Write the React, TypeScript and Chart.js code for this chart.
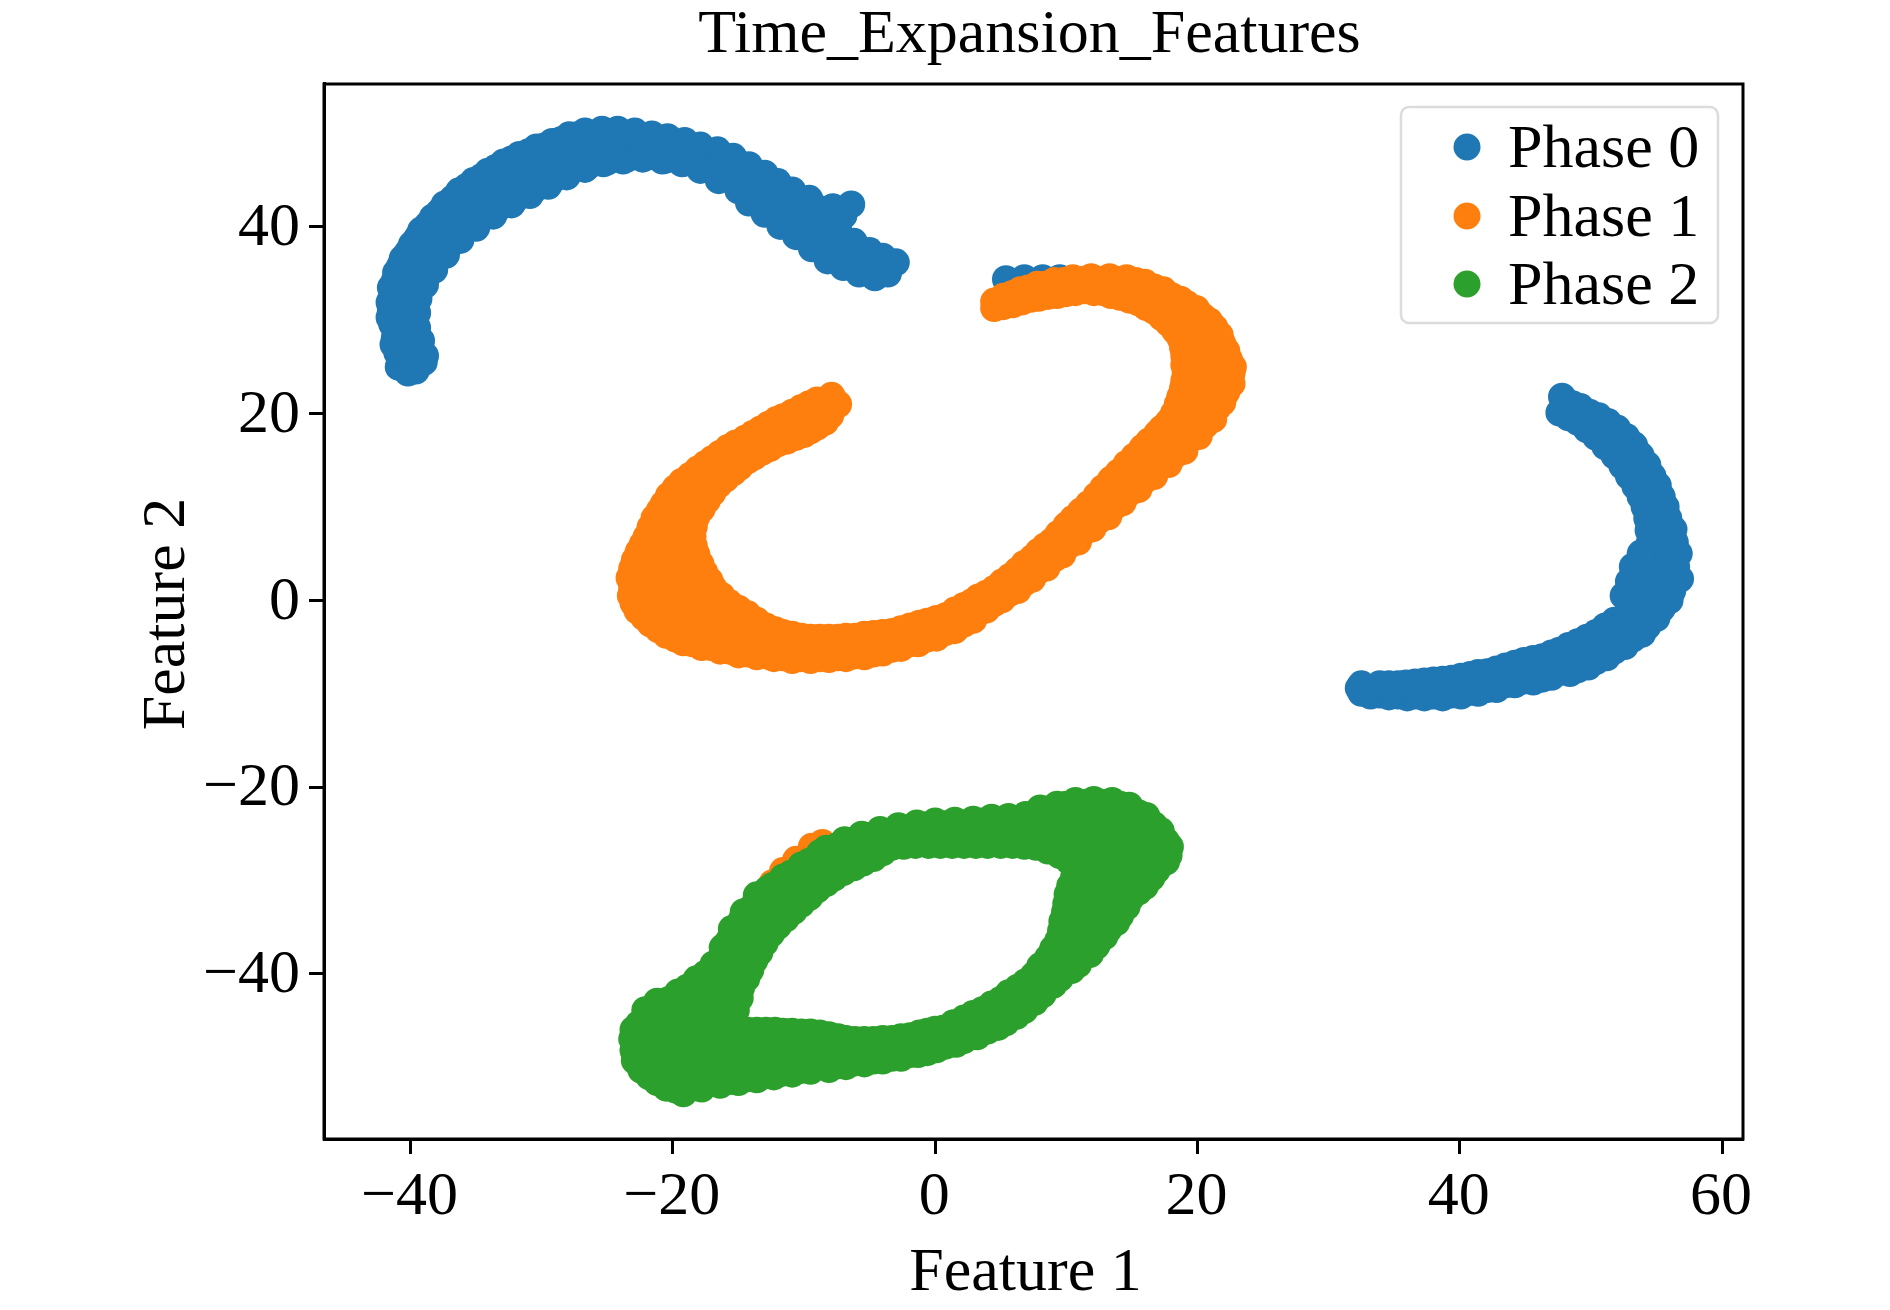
import React, { useEffect, useRef } from "react";
import { Chart, registerables } from "chart.js";

Chart.register(...registerables);

type P = [number, number];

const seriesNames = ["Phase 0", "Phase 1", "Phase 2"];
const seriesColors = ["#1f77b4", "#ff7f0e", "#2ca02c"];
const xTicks = [-40, -20, 0, 20, 40, 60];
const yTicks = [-40, -20, 0, 20, 40];

const phase0ArcOuter: P[] = [[-40.9,25],[-41,26.5],[-41.2,28.1],[-41.4,29.6],[-41.5,31],[-41.4,32.6],[-41.2,34.2],[-40.8,35.8],[-40.2,37.3],[-39.5,38.8],[-38.7,40.2],[-37.8,41.6],[-36.8,43],[-35.7,44.3],[-34.6,45.3],[-33.5,46.3],[-32.3,47.2],[-31,48],[-29.8,48.6],[-28.5,49.3],[-27.3,49.8],[-26,49.9],[-24.8,49.9],[-23.5,49.8],[-22.2,49.6],[-21,49.2],[-19.8,48.9],[-18.5,48.4],[-17.2,47.9],[-16,47.4],[-14.8,46.6],[-13.6,45.7],[-12.5,44.8],[-11.4,43.9],[-10.3,42.9],[-9,42],[-7.8,42.1],[-6.4,42.4]];
const phase0ArcOuterStagger: P[] = [[-41.3,27.4],[-41.6,30.3],[-41.6,31.9],[-41.5,33.5],[-41.1,35.1],[-40.6,36.6],[-39.9,38.1],[-39.2,39.6],[-38.3,41],[-37.4,42.4],[-36.3,43.8],[-35.2,44.9],[-34.1,45.9],[-32.9,46.9],[-31.7,47.7],[-30.4,48.5],[-29.2,49.1],[-27.9,49.8],[-26.7,50.2],[-25.4,50.4],[-24.2,50.4],[-22.9,50.2],[-21.6,49.9],[-20.4,49.6],[-19.1,49.2],[-17.9,48.7],[-16.6,48.2],[-15.4,47.5],[-14.2,46.6],[-13,45.7],[-12,44.8],[-10.9,43.9],[-9.6,43]];
const phase0ArcMiddle: P[] = [[-40,25.3],[-40.2,27.2],[-40.5,29],[-40.7,30.5],[-40.6,32.2],[-40.4,33.8],[-39.8,35.6],[-39.1,37],[-38.2,38.7],[-37.2,40.3],[-36,41.7],[-34.8,43],[-33.4,44.2],[-32,45.3],[-30.6,46.3],[-29.2,47.1],[-27.8,47.9],[-26.4,48.3],[-25,48.5],[-23.5,48.6],[-22,48.6],[-20.5,48.2],[-19,47.8],[-17.6,47.2],[-16,46.2],[-14.6,45],[-13.4,44],[-12.2,42.9],[-11,41.8],[-9.8,40.6],[-8.6,39.4],[-7.4,38.2],[-6.2,37.2],[-5,36.2],[-8,40.8],[-9.2,42],[-7,41.2]];
const phase0ArcInner: P[] = [[-39,25.5],[-39.4,27],[-39.7,28.5],[-39.9,30],[-39.9,31.5],[-39.6,33],[-39,34.6],[-38.2,36.2],[-37.2,37.8],[-36,39.4],[-34.8,40.6],[-33.4,41.9],[-32,43],[-30.6,44],[-29.2,45],[-27.8,46],[-26.4,46.6],[-25,47],[-23.5,47.3],[-22,47.5],[-20.5,47.2],[-19,46.9],[-17.6,46.3],[-16.2,45.2],[-15,43.9],[-13.8,43],[-12.6,41.9],[-11.4,40.7],[-10.2,39.6],[-9,38.3],[-7.8,37],[-6.6,36.2],[-5.4,35.5],[-4.2,35],[-3.4,35.8],[-3,36.2],[-4,36.8],[-5,37.4],[-6.2,38.4],[-7.4,39.8],[-8.6,41]];
const phase0ArcInnerStagger: P[] = [[-38.9,26.2],[-39.2,27.8],[-39.5,29.2],[-39.5,30.8],[-39.4,32.3],[-38.9,33.8],[-38.2,35.4],[-37.3,37],[-36.2,38.6],[-35,39.9],[-33.7,41.2],[-32.3,42.4],[-30.9,43.4],[-29.5,44.4],[-28.1,45.4],[-26.7,46.2],[-25.3,46.8],[-23.8,47.1],[-22.3,47.3],[-20.8,47.1],[-19.3,46.8],[-17.9,46.1],[-16.5,45],[-14.2,42.6],[-13,41.4],[-11.8,40.1],[-10.6,39],[-9.4,37.7],[-8.2,36.4],[-7,35.7],[-5.8,35],[-4.6,34.6],[-3.6,35],[-40.2,24.4],[-39.6,24.6]];
const phase0RightOuter: P[] = [[47.8,21.8],[48.6,21],[49.9,20.1],[51.3,19.1],[52.7,17.5],[53.8,15.5],[54.7,13.3],[55.4,11.1],[55.9,8.8],[56.4,6.2],[56.5,3.6],[56.2,1],[55.4,-0.9],[54.3,-2.8],[53.2,-4.1],[51.8,-5.4],[50.4,-6.5],[49,-7.4],[47.6,-7.7],[46.3,-8.4],[44.9,-8.6],[43.5,-9],[42.1,-9.5],[40.8,-9.8],[39.4,-10.1],[38,-10.2],[36.6,-10.2],[35.3,-10.2],[33.9,-10.1],[32.5,-9.9]];
const phase0RightOuterStagger: P[] = [[49.2,20.7],[50.6,19.7],[52,18.4],[53.3,16.6],[54.3,14.5],[55.1,12.3],[55.7,10],[56.3,7.6],[56.7,5],[56.8,2.3],[56,0],[55,-1.9],[53.9,-3.6],[52.6,-4.9],[51.2,-6.1],[49.8,-7.1],[48.4,-7.8],[47,-8.2],[45.6,-8.7],[44.2,-9],[42.8,-9.5],[41.4,-9.9],[40.1,-10.2],[38.7,-10.4],[37.3,-10.4],[36,-10.4],[34.6,-10.3],[33.2,-10.2],[32.3,-9.4]];
const phase0RightMiddle: P[] = [[48.2,20.6],[49.5,19.6],[50.9,18.2],[52.2,16.5],[53.3,14.4],[54.2,12.2],[54.8,10],[55.2,7.5],[55.4,5],[55.3,2.6],[54.9,0.4],[54.2,-1.5],[53,-3],[51.6,-4.2],[50.2,-5.2],[48.8,-6],[47.4,-6.6],[46,-7.2],[44.6,-7.6],[43.2,-8.1],[41.8,-8.6],[40.4,-9],[39,-9.3],[37.6,-9.5],[36.2,-9.6],[34.8,-9.6],[33.4,-9.5]];
const phase0RightInner: P[] = [[47.6,20.1],[49,19.1],[50.4,17.5],[51.8,15.5],[52.9,13.3],[53.8,11.1],[54.3,8.8],[54.5,6.2],[54.1,3.6],[53.4,1.7],[52.9,-0.3],[51.8,-2.2],[50.4,-3.5],[49,-4.5],[47.6,-5.4],[46.3,-6.1],[44.9,-6.5],[43.5,-7.1],[42.1,-7.7],[40.8,-8],[39.4,-8.4],[38,-8.6],[36.6,-8.8],[35.3,-9],[33.9,-9],[32.5,-9]];
const phase0RightInnerStagger: P[] = [[53.2,3.6],[52.9,2],[52.5,0.5],[53.8,5],[51.1,-2.8],[49.7,-4],[48.3,-4.9],[47,-5.7],[45.6,-6.3],[44.2,-6.8],[42.8,-7.4],[41.4,-7.8],[40.1,-8.2],[38.7,-8.5],[37.3,-8.7],[35.9,-8.9],[34.6,-9],[48.3,19.6],[49.7,18.3],[51.1,16.5],[52.4,14.4],[53.4,12.2],[54.1,10],[54.4,7.5]];
const phase0Patch: P[] = [[5.4,34.4],[6.8,34.5],[8.2,34.5],[9.5,34.5],[10.5,34.3]];

const phase1Outer: P[] = [[-7.9,21.9],[-9,21.4],[-10.2,20.6],[-11.6,19.6],[-12.7,18.8],[-13.9,17.8],[-15.2,16.8],[-16.4,15.7],[-17.5,14.6],[-18.7,13.3],[-19.8,12],[-20.7,10.3],[-21.4,8.8],[-22,6.8],[-22.6,5.2],[-23.1,3.4],[-23.1,1.4],[-23,-0.3],[-22.2,-1.8],[-21.1,-3.1],[-19.8,-4.1],[-18.5,-4.6],[-17.1,-5],[-15.7,-5.4],[-14.3,-5.7],[-12.9,-5.9],[-11.6,-6.1],[-10.2,-6.2],[-8.8,-6.2],[-7.4,-6.1],[-6.1,-5.9],[-4.7,-5.7],[-3.3,-5.2],[-1.9,-4.6],[-0.6,-4.1],[0.8,-3.4],[2.2,-2.5],[3.3,-1.3],[4.5,-0.3],[5.7,0.8],[6.8,1.9],[7.9,3.2],[9.1,4.5],[10.2,5.9],[11.4,7.4],[12.5,8.6],[13.7,10.1],[14.8,11.5],[16,12.9],[17.1,14.3],[18.3,15.6],[19.4,17.2],[20.6,18.8],[21.5,20.6],[22.2,22.3],[22.6,24.3],[22.4,25.8],[21.9,27.5],[21.3,29.2],[20.4,30.4],[19.2,31.7],[18,32.6],[16.7,33.5],[15.3,34.2],[14,34.3],[12.6,34.3],[11.2,34.3],[9.8,34.2],[8.4,33.8],[7.1,33.4],[5.9,32.8],[4.5,32]];
const phase1OuterStagger: P[] = [[-9.6,21],[-10.9,20.1],[-12.1,19.3],[-13.3,18.3],[-14.5,17.3],[-15.8,16.3],[-17,15.1],[-18.1,14],[-19.3,12.7],[-20.3,11.2],[-21,9.6],[-21.7,7.8],[-22.3,6],[-22.9,4.3],[-23.3,2.4],[-23.2,0.5],[-22.7,-1.1],[-21.7,-2.5],[-20.5,-3.7],[-19.2,-4.5],[-17.8,-5],[-16.4,-5.4],[-15,-5.8],[-13.6,-6],[-12.3,-6.2],[-10.9,-6.4],[-9.5,-6.4],[-8.1,-6.3],[-6.8,-6.2],[-5.4,-6],[-4,-5.6],[-2.6,-5.1],[-1.3,-4.6],[0.1,-4],[1.5,-3.2],[2.9,-2.1],[3.9,-1],[5.1,0.1],[6.3,1.1],[7.4,2.3],[8.5,3.5],[9.7,4.9],[10.9,6.3],[12,7.7],[13.2,9],[14.3,10.5],[15.5,11.9],[16.7,13.3],[17.8,14.6],[19,16],[20.1,17.6],[21.2,19.4],[21.9,21.2],[22.6,23.2],[22.7,25],[22.2,26.7],[21.7,28.4],[20.9,29.9],[19.9,31.2],[18.7,32.2],[17.4,33.2],[16,34],[14.6,34.5],[13.3,34.6],[11.9,34.6],[10.5,34.5],[9.1,34.2],[7.8,33.8],[6.5,33.2],[5.2,32.5]];
const phase1Middle: P[] = [[-8,20.5],[-9.2,19.9],[-10.6,19],[-12,18.2],[-13.2,17.3],[-14.5,16.3],[-15.8,15.2],[-17,14],[-18,12.9],[-12.2,-4.7],[-10.9,-5],[-9.5,-5.1],[-8.1,-5.1],[-6.8,-5],[-5.4,-4.8],[-4,-4.5],[-2.6,-4],[-1.2,-3.5],[0.1,-2.9],[1.5,-2],[2.8,-1],[3.9,0],[5.1,1],[6.2,2.2],[7.4,3.6],[8.5,4.9],[9.6,6.2],[10.7,7.7],[11.8,9],[12.9,10.6],[14.1,12.1],[15.2,13.7],[16.5,15],[17.6,16.5],[18.8,18],[19,19.8]];
const phase1Inner: P[] = [[-7.4,21],[-8.4,19.1],[-9.5,18.2],[-10.6,17.5],[-12,16.8],[-13.2,15.9],[-14.3,15],[-15.4,13.7],[-16.5,12.4],[-17.4,10.7],[-18.2,9],[-18.5,6.8],[-18.2,4.9],[-17.6,3],[-16.9,1.3],[-15.7,-0.3],[-14.3,-1.5],[-12.9,-2.8],[-11.6,-3.5],[-10.2,-3.9],[-8.8,-4],[-7.4,-4],[-6.1,-3.9],[-4.7,-3.6],[-3.3,-3.4],[-1.9,-2.8],[-0.6,-2.3],[0.8,-1.7],[2.2,-0.6],[3.3,0.3],[4.5,1.2],[5.7,2.5],[6.8,3.9],[7.9,5.2],[8.9,6.3],[10,8],[11.1,9.5],[12.3,11.2],[13.4,12.9],[14.6,14.6],[15.8,16.3],[16.9,17.8],[17.8,19.1],[18.5,21],[18.9,22.7],[19.1,24.3],[19,26.2],[18.7,28.1],[17.8,29.7],[16.7,31],[15.5,31.9],[14.1,32.5],[12.8,33],[11.4,33.2],[10,32.9],[8.6,32.6],[7.3,32.3],[5.9,31.7],[4.5,31.3]];
const phase1InnerStagger: P[] = [[-8,19.8],[-9,18.6],[-10,17.8],[-11.3,17.1],[-12.6,16.3],[-13.8,15.4],[-14.9,14.3],[-16,13],[-17,11.5],[-17.8,9.8],[-18.4,7.9],[-18.4,5.8],[-17.9,3.9],[-17.2,2.1],[-16.3,0.5],[-15,-0.9],[-13.6,-2.2],[-12.2,-3.2],[-10.9,-3.7],[-9.5,-4],[-8.1,-4],[-6.8,-3.9],[-5.4,-3.7],[-4,-3.5],[-2.6,-3.1],[-1.2,-2.5],[0.1,-2],[1.5,-1.1],[2.8,-0.2],[3.9,0.7],[5.1,1.9],[6.3,3.2],[7.4,4.5],[8.4,5.8],[9.4,7.1],[10.5,8.7],[11.7,10.3],[12.8,12],[14,13.7],[15.2,15.4],[16.3,17],[17.3,18.4],[18.2,20],[18.7,21.8],[19,23.5],[19,25.2],[18.9,27.1],[18.3,28.9],[17.3,30.3],[16.1,31.4],[14.8,32.2],[13.4,32.7],[12.1,33],[10.7,33],[9.3,32.7],[7.9,32.4],[6.6,32],[5.2,31.5]];
const phase1LeftFill: P[] = [[-18.9,12],[-19.4,10.3],[-20,8.5],[-20.3,6.6],[-20.6,4.6],[-20.6,2.7],[-20,0.8],[-20.9,-0.9],[-19.4,-1.5],[-18,-2.2],[-16.6,-2.8],[-15.2,-3.5],[-13.9,-4.1],[-18.5,0.4],[-17.1,-0.9],[-19.3,3],[-19.1,5.5],[-20.6,9.8],[-21,7.6],[-21.3,5.6],[-21.8,3.7],[-21.9,1.9],[-21.7,0],[-19.2,8.7],[-19.3,7],[-19.5,4.5],[-19.2,1.6],[-19,-0.4],[-17.9,1.8],[-17,-1.9],[-15.5,-1.9],[-14.5,-3],[-20.2,-2.6],[-18.8,-3.3],[-17.4,-3.9],[-16,-4.4],[-14.6,-4.8],[-13.2,-5],[-20.4,-0.3],[-21,1]];
const phase1RightFill: P[] = [[20.8,24.3],[20.8,26.2],[20.6,28.1],[19.5,29.4],[20.6,22.3],[20.1,20.4],[19.2,18.8],[18.3,17.5],[16.9,15.9],[19.8,23.2],[21.6,23.4],[19.9,25],[21.7,25],[19.8,27],[21.4,26.9],[19.7,28.5],[20.7,29.8],[18.9,30.3],[17.5,31.4],[16.2,32.3],[14.8,33.4],[13.4,33.6],[12,33.7],[10.6,33.6],[9.2,33.4],[7.8,33],[6.5,32.5],[5.2,32],[21,21.3],[19.4,21],[20,22]];
const phase1Patch: P[] = [[-12.4,-30.3],[-11.6,-29],[-10.6,-27.8],[-9.4,-26.4],[-8.6,-26]];

const phase2Outer: P[] = [[-22.1,-43.9],[-20.3,-42.8],[-18.9,-41.5],[-17.5,-40],[-16.3,-38.3],[-15.7,-36.4],[-14.8,-34.4],[-13.9,-32.8],[-12.8,-31],[-11.6,-29.7],[-10.2,-28.4],[-8.8,-27.1],[-7.4,-26.3],[-6.1,-25.7],[-4.7,-25.2],[-3.3,-24.8],[-1.9,-24.4],[-0.6,-24.1],[0.8,-24],[2.2,-23.9],[3.6,-23.7],[5,-23.6],[6.3,-23.5],[7.5,-23.1],[8.6,-22.4],[10,-21.9],[11.4,-21.7],[12.8,-21.7],[14.1,-21.9],[15.5,-22.8],[16.7,-24.1],[17.6,-25.8],[17.8,-27.3],[16.9,-28.9],[16,-30.6],[14.9,-31.9],[14.1,-33.8],[13.2,-35.3],[12.3,-37],[10.9,-39],[9.5,-40.5],[8.2,-42.2],[6.8,-43.9],[5.4,-45.2],[4,-46.1],[2.2,-47.1],[0.8,-47.7],[-0.6,-48.4],[-1.9,-48.6],[-3.3,-49],[-4.7,-49.3],[-6.1,-49.5],[-7.4,-49.8],[-8.8,-49.9],[-10.2,-50.3],[-11.6,-50.6],[-12.9,-50.8],[-14.3,-51.2],[-15.7,-51.5],[-17.1,-51.7],[-18.5,-52.2],[-19.8,-52.4],[-21.2,-51.6],[-22.4,-50.3],[-23,-48.2],[-22.6,-45.4]];
const phase2OuterStagger: P[] = [[-21.2,-43],[-19.6,-42],[-18.2,-40.6],[-16.9,-39],[-16.2,-37.2],[-15.5,-35.2],[-14.6,-33.4],[-13.6,-31.6],[-12.4,-30.6],[-11,-29.3],[-9.6,-28],[-8.3,-26.6],[-6.9,-25.7],[-5.6,-25.1],[-4.2,-24.6],[-2.8,-24.2],[-1.4,-23.9],[0,-23.7],[1.5,-23.6],[2.9,-23.5],[4.3,-23.3],[5.6,-23.2],[6.9,-23],[8,-22.3],[9.3,-21.9],[10.7,-21.5],[12.1,-21.4],[13.5,-21.5],[14.8,-22],[16.1,-23.1],[17.2,-24.7],[17.9,-26.4],[17.6,-28],[16.5,-29.7],[15.5,-31.2],[14.6,-32.8],[13.8,-34.5],[12.9,-36],[11.8,-37.9],[10.4,-39.6],[9,-41.2],[7.6,-43],[6.2,-44.5],[4.8,-45.7],[3.2,-46.7],[1.6,-47.5],[0.1,-48.1],[-1.3,-48.6],[-2.6,-49],[-4,-49.3],[-5.4,-49.6],[-6.8,-49.9],[-8.1,-50.2],[-9.5,-50.4],[-10.9,-50.7],[-12.3,-51],[-13.6,-51.3],[-15,-51.6],[-16.4,-51.9],[-17.8,-52.3],[-19.2,-52.8],[-20.5,-52.2],[-21.8,-51],[-22.9,-49.3],[-23.1,-47],[-23,-46]];
const phase2Middle: P[] = [[-7.2,-28],[-6,-27.2],[-4.6,-26.4],[-3,-25.6],[-1.2,-25.3],[0.4,-25.1],[2.2,-25],[4,-25],[5.8,-24.9],[7.5,-24.8],[9,-24.8],[8.2,-26],[9.5,-24],[8.9,-23.6],[9.6,-25.6],[-16.5,-41.5],[-15.2,-39],[-14.6,-37.5],[-14,-36],[-13.3,-34.4],[-12.5,-33],[-11.5,-31.5],[-10.5,-30.2],[-9.4,-29],[-8.2,-28],[-13.9,-37],[8.2,-40.5],[7.5,-41.5],[6.2,-43],[5,-44],[3.7,-45],[2.3,-46],[0.7,-46.8],[-0.6,-47.3],[-2,-47.7],[-3.3,-48]];
const phase2Inner: P[] = [[-15.2,-43.9],[-14.8,-41.5],[-14.1,-39.6],[-13.4,-37.7],[-12.5,-35.7],[-11.4,-34.1],[-10.2,-32.5],[-9,-31],[-7.7,-29.7],[-6.2,-28.6],[-4.7,-27.6],[-3.3,-26.4],[-1.5,-26.2],[0.4,-26.2],[2.2,-26.2],[4,-26.2],[5.9,-26.2],[7.7,-26.4],[9.5,-27.3],[10.9,-28.6],[10.3,-30.6],[10,-32.5],[9.7,-34.4],[9.4,-36.4],[8.6,-38.3],[7.5,-40.2],[6.3,-41.5],[5,-42.8],[3.6,-43.9],[2.2,-44.8],[0.6,-45.9],[-0.6,-46.2],[-1.9,-46.7],[-3.3,-47],[-4.7,-47.1],[-6.1,-47.1],[-7.4,-46.8],[-8.8,-46.4],[-10.2,-46.3],[-11.6,-46.2],[-12.9,-46.1],[-14.3,-46.1],[-15.7,-46.1],[-17.1,-46.1]];
const phase2InnerStagger: P[] = [[-14.9,-42.6],[-14.4,-40.5],[-13.8,-38.6],[-13,-36.7],[-12,-34.9],[-10.8,-33.3],[-9.6,-31.8],[-8.3,-30.3],[-7,-29.1],[-5.5,-28.1],[-4,-27],[-2.4,-26.3],[-0.5,-26.2],[1.3,-26.2],[3.1,-26.2],[5,-26.2],[6.8,-26.3],[8.6,-26.8],[10.2,-27.9],[10.6,-29.6],[10.1,-31.5],[9.9,-33.4],[9.6,-35.4],[9,-37.3],[8,-39.2],[6.9,-40.9],[5.6,-42.1],[4.3,-43.3],[2.9,-44.3],[1.4,-45.3],[0,-46],[-1.2,-46.4],[-2.6,-46.8],[-4,-47],[-5.4,-47.1],[-6.8,-47],[-8.1,-46.6],[-9.5,-46.3],[-10.9,-46.2],[-12.2,-46.1],[-13.6,-46.1],[-15,-46.1],[-16.4,-46.1]];
const phase2LowerLeftFill: P[] = [[-21.2,-43.5],[-19.4,-43.5],[-17.5,-43.5],[-16.2,-43.5],[-22.6,-46.1],[-20.9,-46.1],[-19.3,-46.1],[-21.7,-48.6],[-20,-48.6],[-18.4,-48.6],[-16.7,-48.6],[-15.1,-48.6],[-13.4,-48.6],[-21.2,-50.6],[-19.4,-50.6],[-17.5,-50.6],[-15.7,-50.6],[-17.1,-41.8],[-15.7,-40.9],[-16.2,-44.8],[-11.8,-48.4],[-10.1,-48.3],[-8.4,-48.1],[-6.8,-48.1],[-5.1,-47.8],[-22,-47],[-20.3,-47.3],[-18.6,-47.3],[-17,-47.3],[-15.4,-47.3],[-13.8,-47.3],[-12.5,-47.3],[-21.9,-49.6],[-20.4,-49.6],[-18.8,-49.6],[-17.1,-49.6],[-15.4,-49.6],[-13.7,-49.8],[-12.2,-49.5],[-10.5,-49.2],[-9,-49],[-7.3,-48.9],[-5.6,-48.6],[-4,-48.2],[-21.8,-44.8],[-20.1,-44.8],[-18.4,-44.8],[-16.8,-42.6],[-18.4,-42.6],[-15.5,-42.3],[-15.4,-45],[-19.6,-51.4],[-18,-51],[-16.4,-50.9],[-14.8,-50.4],[-13.2,-50]];
const phase2UpperRightFill: P[] = [[10.9,-23.5],[12.8,-23.5],[14.6,-23.5],[16,-23.5],[11.4,-26.1],[13.2,-26.1],[15.1,-26.1],[16.4,-26.1],[12.3,-28.6],[14.1,-28.6],[15.5,-28.6],[11.8,-31.2],[13.7,-31.2],[10.9,-33.8],[12.5,-33.8],[10.5,-36.4],[11.8,-36.4],[9.5,-39],[11,-30],[12.5,-30],[14.8,-30.5],[11.2,-32.5],[12.8,-32.5],[13.5,-34.5],[11.2,-35],[12.5,-35],[10,-37.8],[11,-37.8],[9,-39.6],[11.8,-22.8],[13.5,-22.7],[15,-24.8],[13,-24.8],[11.2,-24.8],[17,-25.2],[16.6,-27.5],[14.8,-27.4],[13,-27.4],[11.3,-27.4],[10.2,-25.4],[15,-29.8],[13.2,-29.8],[11.4,-29.6]];

const phase0Points = [...phase0ArcOuter, ...phase0ArcOuterStagger, ...phase0ArcMiddle, ...phase0ArcInner, ...phase0ArcInnerStagger, ...phase0RightOuter, ...phase0RightOuterStagger, ...phase0RightMiddle, ...phase0RightInner, ...phase0RightInnerStagger, ...phase0Patch];
const phase1Points = [...phase1Outer, ...phase1OuterStagger, ...phase1Middle, ...phase1Inner, ...phase1InnerStagger, ...phase1LeftFill, ...phase1RightFill, ...phase1Patch];
const phase2Points = [...phase2Outer, ...phase2OuterStagger, ...phase2Middle, ...phase2Inner, ...phase2InnerStagger, ...phase2LowerLeftFill, ...phase2UpperRightFill];
const seriesPoints = [phase0Points, phase1Points, phase2Points];

const FONT = '"Liberation Serif", "Times New Roman", serif';
const toXY = (pts: P[]) => pts.map(([x, y]) => ({ x, y }));

const shifted = (chart: any, obj: any, method: string, dx: number, dy: number) => {
  if (obj.__patched?.[method]) return;
  obj.__patched = { ...(obj.__patched || {}), [method]: true };
  const orig = obj[method].bind(obj);
  obj[method] = (...args: any[]) => {
    chart.ctx.save();
    chart.ctx.translate(dx, dy);
    orig(...args);
    chart.ctx.restore();
  };
};

const framePlugin = {
  id: "frameAndLegend",
  afterLayout(chart: any) {
    shifted(chart, chart.scales.x, "drawTitle", -8, 2);
    shifted(chart, chart.scales.y, "drawTitle", 3, 2.5);
    shifted(chart, chart.scales.x, "drawLabels", -1, -3);
    shifted(chart, chart.scales.y, "drawLabels", 1, 2);
    shifted(chart, chart.titleBlock, "draw", -4, -1);
  },
  afterDraw(chart: any) {
    const { ctx, chartArea: a } = chart;
    ctx.save();
    ctx.strokeStyle = "#000";
    ctx.lineWidth = 3;
    ctx.strokeRect(a.left, a.top, a.right - a.left, a.bottom - a.top);

    const bx = 1401, by = 107, bw = 317, bh = 216, r = 8;
    ctx.beginPath();
    ctx.roundRect(bx, by, bw, bh, r);
    ctx.fillStyle = "rgba(255,255,255,0.8)";
    ctx.fill();
    ctx.strokeStyle = "#dcdcdc";
    ctx.lineWidth = 2.5;
    ctx.stroke();

    const rowY = [147, 216, 284];
    ctx.font = `62px ${FONT}`;
    ctx.textBaseline = "middle";
    ctx.textAlign = "left";
    seriesNames.forEach((name, i) => {
      ctx.beginPath();
      ctx.arc(1467, rowY[i], 13.5, 0, Math.PI * 2);
      ctx.fillStyle = seriesColors[i];
      ctx.fill();
      ctx.fillStyle = "#000";
      ctx.fillText(name, 1508, rowY[i] + 4);
    });
    ctx.restore();
  },
};

export default function App() {
  const ref = useRef<HTMLCanvasElement>(null);
  useEffect(() => {
    document.body.style.margin = "0";
    const chart = new Chart(ref.current!, {
      type: "scatter",
      data: {
        datasets: seriesNames.map((label, i) => ({
          label,
          data: toXY(seriesPoints[i]),
          backgroundColor: seriesColors[i],
          borderWidth: 0,
          pointRadius: 14,
          order: seriesNames.length - i,
        })),
      },
      options: {
        animation: false,
        responsive: false,
        maintainAspectRatio: false,
        devicePixelRatio: 1,
        layout: { padding: { left: 0, right: 147, top: 0, bottom: 0 } },
        plugins: {
          legend: { display: false },
          tooltip: { enabled: false },
          title: {
            display: true,
            text: "Time_Expansion_Features",
            fullSize: false,
            color: "#000",
            font: { family: FONT, size: 62, weight: "normal", lineHeight: 1.2 },
            padding: { top: 0, bottom: 9.6 },
          },
        },
        scales: {
          x: {
            type: "linear",
            min: -46.6,
            max: 61.6,
            afterFit: (s: any) => { s.height = 171; },
            afterBuildTicks: (s: any) => { s.ticks = xTicks.map((value) => ({ value })); },
            border: { display: true, color: "#000", width: 3 },
            grid: { drawOnChartArea: false, drawTicks: true, tickLength: 15, tickWidth: 3, tickColor: "#000" },
            ticks: {
              color: "#000",
              autoSkip: false,
              maxRotation: 0,
              padding: 10,
              font: { family: FONT, size: 62 },
              callback: (v: any) => String(v).replace("-", "\u2212"),
            },
            title: {
              display: true,
              text: "Feature 1",
              color: "#000",
              font: { family: FONT, size: 62, lineHeight: 1.2 },
              padding: { top: 0, bottom: 1 },
            },
          },
          y: {
            type: "linear",
            min: -57.7,
            max: 55.3,
            afterFit: (s: any) => { s.width = 324; },
            afterBuildTicks: (s: any) => { s.ticks = yTicks.map((value) => ({ value })); },
            border: { display: true, color: "#000", width: 3 },
            grid: { drawOnChartArea: false, drawTicks: true, tickLength: 15, tickWidth: 3, tickColor: "#000" },
            ticks: {
              color: "#000",
              autoSkip: false,
              padding: 10,
              font: { family: FONT, size: 62 },
              callback: (v: any) => String(v).replace("-", "\u2212"),
            },
            title: {
              display: true,
              text: "Feature 2",
              color: "#000",
              font: { family: FONT, size: 62, lineHeight: 1.2 },
              padding: { top: 128, bottom: 0 },
            },
          },
        },
      } as any,
      plugins: [framePlugin],
    });
    return () => chart.destroy();
  }, []);
  return <canvas ref={ref} width={1890} height={1310} style={{ display: "block" }} />;
}
